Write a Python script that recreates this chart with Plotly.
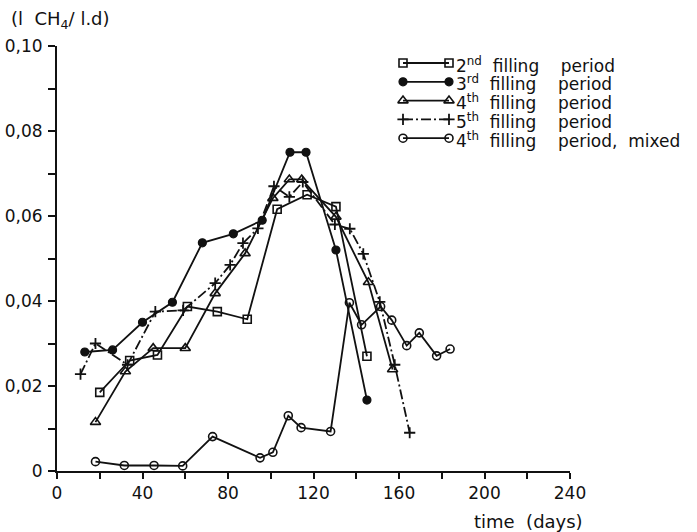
import plotly.graph_objects as go

# ---- data ----
p2_x = [20, 34, 47, 61, 75, 89, 103, 117, 130.5, 145]
p2_y = [0.0185, 0.026, 0.0273, 0.0387, 0.0375, 0.0357, 0.0616, 0.065, 0.0622, 0.027]

p3_x = [13, 26, 40, 54, 68, 82.5, 96, 109, 116.5, 130.5, 145]
p3_y = [0.028, 0.0285, 0.035, 0.0397, 0.0537, 0.0558, 0.059, 0.075, 0.075, 0.052, 0.0167]

p4_x = [18, 32, 45, 60, 74, 88, 101, 108.7, 114.5, 130.5, 145.7, 157]
p4_y = [0.0115, 0.0234, 0.0289, 0.0289, 0.0418, 0.0512, 0.0642, 0.0686, 0.0686, 0.0598, 0.0444, 0.0239]

p5_x = [11, 18, 33, 46, 59, 74, 81, 87, 94, 101.5, 108.7, 115, 130, 137, 143.3, 151, 158, 165]
p5_y = [0.0228, 0.030, 0.025, 0.0375, 0.0378, 0.0442, 0.0485, 0.0536, 0.0571, 0.067, 0.0645, 0.068,
        0.058, 0.057, 0.0511, 0.0398, 0.025, 0.009]

mix_x = [18, 31.5, 45.4, 58.8, 72.8, 95, 101, 108.2, 114.2, 128, 136.8, 142.5, 151.4, 156.6, 163.6, 169.5, 177.6, 183.9]
mix_y = [0.0022, 0.0013, 0.0013, 0.0012, 0.0081, 0.0031, 0.0044, 0.013, 0.0102, 0.0093, 0.0396, 0.0344,
         0.0387, 0.0355, 0.0295, 0.0325, 0.0271, 0.0287]

SP = "\u00a0"
ordinals = ["2<sup>nd</sup>", "3<sup>rd</sup>", "4<sup>th</sup>", "5<sup>th</sup>", "4<sup>th</sup>"]
suffixes = ["", "", "", "", "," + SP * 2 + "mixed"]
names = [o + SP * 2 + "filling" + SP * 4 + "period" + s for o, s in zip(ordinals, suffixes)]

y_tickvals = [0, 0.02, 0.04, 0.06, 0.08, 0.10]
y_ticktext = ["0", "0,02", "0,04", "0,06", "0,08", "0,10"]
x_tickvals = [0, 40, 80, 120, 160, 200, 240]

FONT = "DejaVu Sans, sans-serif"
BLACK = "#111111"

# plot area in pixels
W, H = 697, 532
L, R, T, B = 57, 570, 46, 471
PW, PH = R - L, B - T

styles = [
    dict(symbol="square-open", size=8, dash="solid", mlw=1.6),
    dict(symbol="circle", size=8, dash="solid", mlw=1.2),
    dict(symbol="triangle-up-open", size=9, dash="solid", mlw=1.6),
    dict(symbol="cross-thin", size=8, dash="10px,3px,2px,3px", mlw=1.8),
    dict(symbol="circle-open", size=8, dash="solid", mlw=1.6),
]
series = [(p2_x, p2_y), (p3_x, p3_y), (p4_x, p4_y), (p5_x, p5_y), (mix_x, mix_y)]

fig = go.Figure()

def trace(x, y, st, name, xa="x", ya="y"):
    return go.Scatter(
        x=x, y=y, name=name, mode="lines+markers", showlegend=False,
        xaxis=xa, yaxis=ya,
        line=dict(color=BLACK, width=1.8, dash=st["dash"]),
        marker=dict(symbol=st["symbol"], size=st["size"], color=BLACK,
                    line=dict(color=BLACK, width=st["mlw"])),
        cliponaxis=False,
    )

for (x, y), st, nm in zip(series, styles, names):
    fig.add_trace(trace(x, y, st, nm))

# legend keys (a short line with a marker at each end), drawn on a hidden helper axis
row_top, row_gap = 63, 18.8
n = len(names)
y2_lo_px = row_top - row_gap / 2
y2_hi_px = row_top + row_gap * (n - 0.5)
for i, (st, nm) in enumerate(zip(styles, names)):
    fig.add_trace(trace([0, 1], [i, i], st, nm, xa="x2", ya="y2"))
    fig.add_annotation(text=nm, xref="paper", yref="y2", x=(454 - L) / PW, y=i + 0.08,
                       xanchor="left", yanchor="middle", showarrow=False,
                       font=dict(size=17))

fig.update_layout(
    width=W, height=H,
    margin=dict(l=L, r=W - R, t=T, b=H - B, autoexpand=False),
    paper_bgcolor="white", plot_bgcolor="white",
    font=dict(family=FONT, size=17, color=BLACK),
    showlegend=False,
    xaxis=dict(range=[0, 240], tickvals=x_tickvals, showline=True, linecolor=BLACK, linewidth=2,
               ticks="outside", ticklen=6, tickwidth=2, tickcolor=BLACK, showgrid=False,
               zeroline=False, tickfont=dict(size=17), automargin=False,
               minor=dict(dtick=20, ticks="outside", ticklen=6, tickwidth=2, tickcolor=BLACK, showgrid=False)),
    yaxis=dict(range=[0, 0.10], tickvals=y_tickvals, ticktext=y_ticktext, showline=True,
               linecolor=BLACK, linewidth=2, ticks="outside", ticklen=7, tickwidth=2,
               tickcolor=BLACK, showgrid=False, zeroline=False, tickfont=dict(size=17),
               ticklabelstandoff=2, automargin=False,
               minor=dict(dtick=0.01, ticks="outside", ticklen=7, tickwidth=2, tickcolor=BLACK, showgrid=False)),
    xaxis2=dict(domain=[(403 - L) / PW, (449 - L) / PW], range=[0, 1], visible=False,
                anchor="y2", fixedrange=True, automargin=False),
    yaxis2=dict(domain=[(B - y2_hi_px) / PH, (B - y2_lo_px) / PH], range=[n - 0.5, -0.5],
                visible=False, anchor="x2", fixedrange=True, automargin=False),
)

fig.add_annotation(text="(l" + SP + SP + "CH<sub>4</sub>/" + SP + "l.d)", xref="paper", yref="paper",
                   x=(9 - L) / PW, y=(B - 20) / PH, xanchor="left", yanchor="middle",
                   showarrow=False, font=dict(size=18))
fig.add_annotation(text="time" + SP + SP + "(days)", xref="paper", yref="paper",
                   x=(585 - L) / PW, y=-(521 - B) / PH, xanchor="right", yanchor="middle",
                   showarrow=False, font=dict(size=18))

fig.write_html("out.html")
